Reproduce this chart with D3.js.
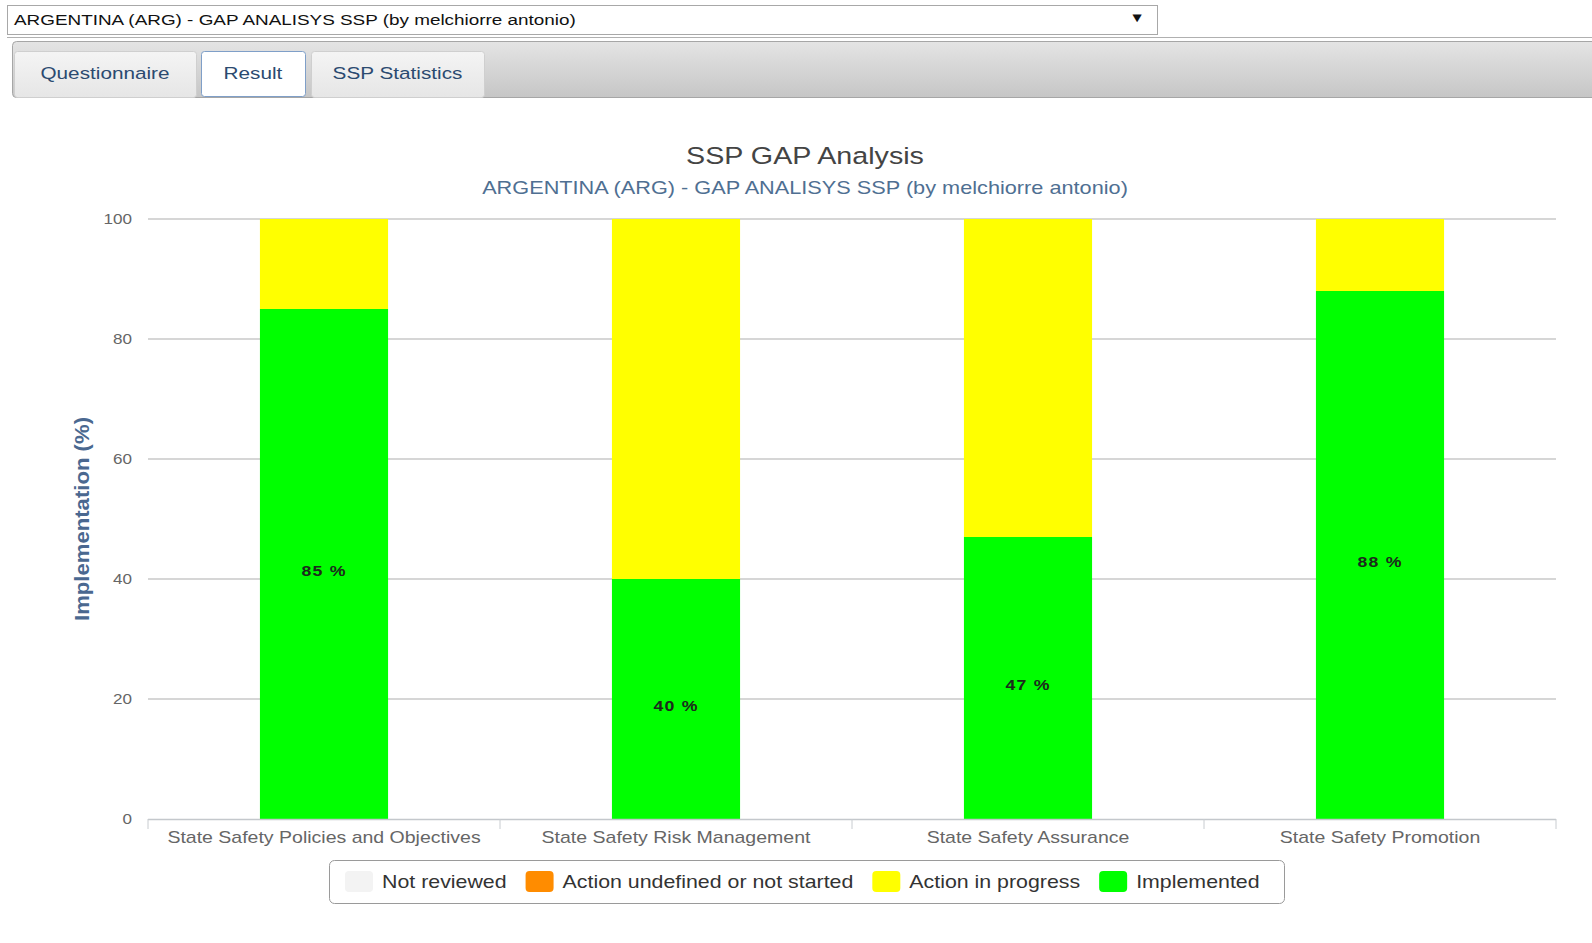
<!DOCTYPE html>
<html>
<head>
<meta charset="utf-8">
<script src="https://cdn.jsdelivr.net/npm/d3@7"></script>
<style>
  body { margin: 0; background: #fff; }
  svg text { font-family: "Liberation Sans", Arial, sans-serif; }
</style>
</head>
<body>
<div id="chart"></div>
<script>
// chart values
var categories = ["State Safety Policies and Objectives", "State Safety Risk Management",
                  "State Safety Assurance", "State Safety Promotion"];
var seriesNames = ["Not reviewed", "Action undefined or not started", "Action in progress", "Implemented"];
var notReviewed = [0, 0, 0, 0];
var notStarted = [0, 0, 0, 0];
var inProgress = [15, 60, 53, 12];
var implemented = [85, 40, 47, 88];
var yTicks = [0, 20, 40, 60, 80, 100];
var tabNames = ["Questionnaire", "Result", "SSP Statistics"];
var selectedName = "ARGENTINA (ARG) - GAP ANALISYS SSP (by melchiorre antonio)";

var seriesColors = ["#f3f3f3", "#ff8c00", "#ffff00", "#00ff00"];

// the screenshot text is a bit wider than normal, stretch it
var SX = 1.22;
var W = 1592, H = 943;

var svg = d3.select("#chart").append("svg")
  .attr("width", W)
  .attr("height", H);

function stext(sel, x, y, str) {
  return sel.append("text")
    .attr("transform", "translate(" + x + "," + y + ") scale(" + SX + ",1)")
    .attr("dominant-baseline", "central")
    .text(str);
}

var defs = svg.append("defs");
var gr = defs.append("linearGradient").attr("id", "bar").attr("x1", 0).attr("x2", 0).attr("y1", 0).attr("y2", 1);
gr.append("stop").attr("offset", "0%").attr("stop-color", "#e4e4e4");
gr.append("stop").attr("offset", "100%").attr("stop-color", "#c6c6c6");
var gt = defs.append("linearGradient").attr("id", "tab").attr("x1", 0).attr("x2", 0).attr("y1", 0).attr("y2", 1);
gt.append("stop").attr("offset", "0%").attr("stop-color", "#f4f4f4");
gt.append("stop").attr("offset", "100%").attr("stop-color", "#e6e6e6");

// ---------------------------//
//   SELECT BOX AND TABS      //
// ---------------------------//
svg.append("rect")
  .attr("x", 7.5).attr("y", 5.5).attr("width", 1150).attr("height", 29)
  .attr("fill", "#fff").attr("stroke", "#a8a8a8");
stext(svg, 14, 20, selectedName).style("font-size", "15.5px").attr("fill", "#111");
stext(svg, 1137, 18, "\u25BC").style("font-size", "13px").attr("fill", "#111")
  .attr("text-anchor", "middle");

svg.append("line").attr("x1", 7).attr("x2", W).attr("y1", 37.5).attr("y2", 37.5)
  .attr("stroke", "#b0b0b0");
svg.append("rect")
  .attr("x", 12.5).attr("y", 41.5).attr("width", W).attr("height", 56)
  .attr("rx", 4)
  .attr("fill", "url(#bar)").attr("stroke", "#a6a6a6");

var tabX = [14, 201, 311], tabW = [182, 104, 173];
tabNames.forEach(function(t, i) {
  var active = t === "Result";
  svg.append("rect")
    .attr("x", tabX[i] + 0.5).attr("y", 51.5).attr("width", tabW[i]).attr("height", active ? 45 : 46)
    .attr("rx", 3)
    .attr("fill", active ? "#fff" : "url(#tab)")
    .attr("stroke", active ? "#7f9fc8" : "#cfcfcf");
  stext(svg, tabX[i] + tabW[i] / 2, 73, t)
    .attr("text-anchor", "middle")
    .style("font-size", "17px")
    .attr("fill", "#2b4a70");
});

// ---------------------------//
//       CHART                //
// ---------------------------//
var plot = {left: 148, right: 1556, top: 219, bottom: 819};

var x = d3.scaleBand()
  .domain(categories)
  .range([plot.left, plot.right])
  .paddingInner(0.636)
  .paddingOuter(0.318);

var y = d3.scaleLinear()
  .domain([0, 100])
  .range([plot.bottom, plot.top]);

// title
stext(svg, 805, 156, "SSP GAP Analysis")
  .attr("text-anchor", "middle")
  .style("font-size", "23.5px")
  .attr("fill", "#444");
stext(svg, 805, 188, selectedName)
  .attr("text-anchor", "middle")
  .style("font-size", "17.8px")
  .attr("fill", "#4f6f92");

// gridlines
svg.append("g")
  .selectAll("line")
  .data(yTicks.filter(function(d) { return d > 0; }))
  .enter()
  .append("line")
    .attr("x1", plot.left).attr("x2", plot.right)
    .attr("y1", function(d) { return y(d); })
    .attr("y2", function(d) { return y(d); })
    .attr("stroke", "#d6d6d6")
    .attr("stroke-width", 2);

// y tick labels
var yl = svg.append("g");
yTicks.forEach(function(t) {
  stext(yl, 132, y(t), t)
    .attr("text-anchor", "end")
    .style("font-size", "14px")
    .attr("fill", "#666");
});

// y title
svg.append("text")
  .attr("transform", "translate(82," + ((plot.top + plot.bottom) / 2) + ") scale(" + SX + ",1) rotate(-90)")
  .attr("text-anchor", "middle")
  .attr("dominant-baseline", "central")
  .attr("textLength", 204)
  .attr("lengthAdjust", "spacingAndGlyphs")
  .style("font-size", "17px")
  .style("font-weight", "bold")
  .attr("fill", "#4a6890")
  .text("Implementation (%)");

// stacked bars
var rows = categories.map(function(c, i) {
  return {cat: c, implemented: implemented[i], inProgress: inProgress[i],
          notStarted: notStarted[i], notReviewed: notReviewed[i]};
});
var keys = ["implemented", "inProgress", "notStarted", "notReviewed"];
var keyColor = {implemented: seriesColors[3], inProgress: seriesColors[2],
                notStarted: seriesColors[1], notReviewed: seriesColors[0]};
var stacked = d3.stack().keys(keys)(rows);

svg.append("g")
  .selectAll("g")
  .data(stacked)
  .enter()
  .append("g")
    .attr("fill", function(d) { return keyColor[d.key]; })
  .selectAll("rect")
  .data(function(d) { return d; })
  .enter()
  .append("rect")
    .attr("x", function(d) { return x(d.data.cat); })
    .attr("width", x.bandwidth())
    .attr("y", function(d) { return y(d[1]); })
    .attr("height", function(d) { return y(d[0]) - y(d[1]); });

// x axis line and ticks at category boundaries
svg.append("line")
  .attr("x1", plot.left).attr("x2", plot.right)
  .attr("y1", plot.bottom + 0.5).attr("y2", plot.bottom + 0.5)
  .attr("stroke", "#c4c8cc").attr("stroke-width", 1.5);
svg.append("g")
  .selectAll("line")
  .data(d3.range(categories.length + 1))
  .enter()
  .append("line")
    .attr("x1", function(i) { return plot.left + i * x.step(); })
    .attr("x2", function(i) { return plot.left + i * x.step(); })
    .attr("y1", plot.bottom).attr("y2", plot.bottom + 10)
    .attr("stroke", "#c8ccd0");

// category labels
var xl = svg.append("g");
categories.forEach(function(c) {
  stext(xl, x(c) + x.bandwidth() / 2, 838, c)
    .attr("text-anchor", "middle")
    .style("font-size", "16px")
    .attr("fill", "#666");
});

// data labels on implemented
var dl = svg.append("g");
categories.forEach(function(c, i) {
  stext(dl, x(c) + x.bandwidth() / 2, y(implemented[i] / 2) + 7, implemented[i] + " %")
    .attr("text-anchor", "middle")
    .style("font-size", "14.5px")
    .style("font-weight", "bold")
    .style("letter-spacing", "1px")
    .attr("fill", "#1c2a1c");
});

// ---------------------------//
//       LEGEND               //
// ---------------------------//
svg.append("rect")
  .attr("x", 329.5).attr("y", 860.5).attr("width", 955).attr("height", 43)
  .attr("rx", 5)
  .attr("fill", "#fff").attr("stroke", "#9a9a9a");

var lx = 345;
seriesNames.forEach(function(n, i) {
  svg.append("rect")
    .attr("x", lx).attr("y", 871).attr("width", 28).attr("height", 21)
    .attr("rx", 4)
    .attr("fill", seriesColors[i]);
  var t = stext(svg, lx + 37, 882, n)
    .style("font-size", "17.5px")
    .attr("fill", "#333");
  lx = lx + 37 + t.node().getComputedTextLength() * SX + 19;
});
</script>
</body>
</html>
